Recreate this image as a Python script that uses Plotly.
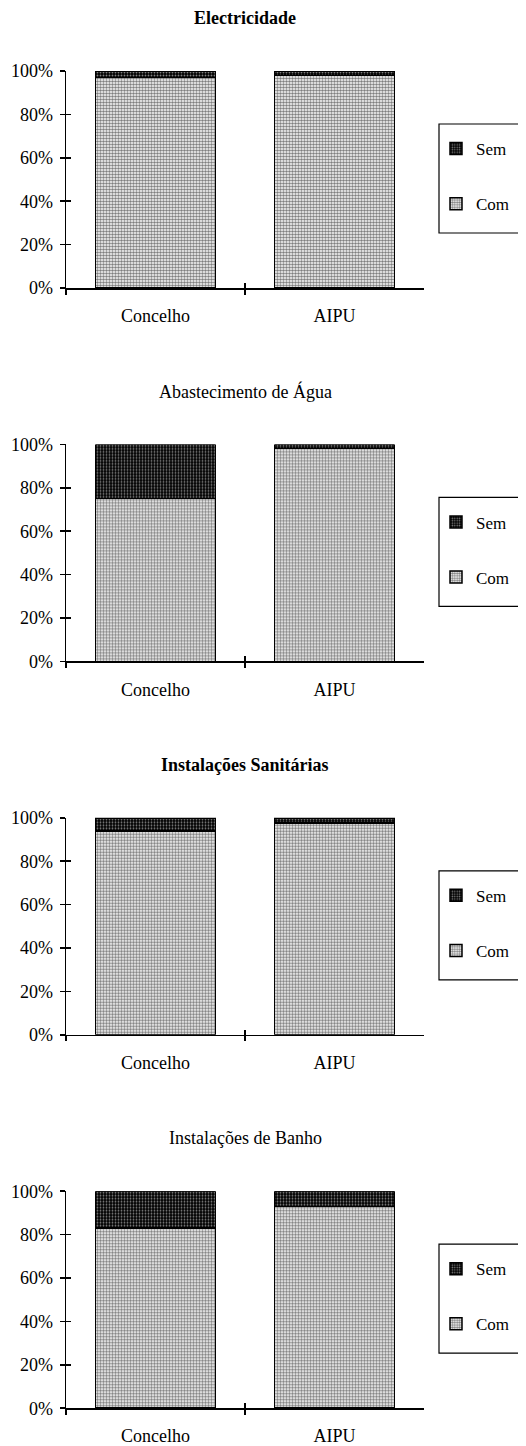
import plotly.graph_objects as go

categories = ["Concelho", "AIPU"]
titles = ["Electricidade", "Abastecimento de Água", "Instalações Sanitárias", "Instalações de Banho"]
title_bold = [True, False, True, False]

com_elec = [97, 98]
sem_elec = [3, 2]
com_agua = [75, 98]
sem_agua = [25, 2]
com_sanit = [94, 97.5]
sem_sanit = [6, 2.5]
com_banho = [83, 93]
sem_banho = [17, 7]

com_series = [com_elec, com_agua, com_sanit, com_banho]
sem_series = [sem_elec, sem_agua, sem_sanit, sem_banho]

y_ticks = [0, 20, 40, 60, 80, 100]
y_tick_text = ["0%", "20%", "40%", "60%", "80%", "100%"]

W, H = 526, 1446
OFF = 8  # page body offset in the screenshot
FONT = "Liberation Serif"
STEP = 373.4
PLOT_TOP = 71 - OFF
PLOT_BOT = 288 - OFF
X0, X1 = (66 - OFF) / W, (424 - OFF) / W

fig = go.Figure()
layout = {}
annotations = []
shapes = []

for k in range(4):
    ix = 2 * k + 1
    io = 2 * k + 2
    xa, ya = f"x{ix}", f"y{ix}"
    xo, yo = f"x{io}", f"y{io}"
    top = PLOT_TOP + STEP * k
    bot = PLOT_BOT + STEP * k
    lg = "legend" if k == 0 else f"legend{k + 1}"

    fig.add_trace(go.Bar(
        x=categories, y=com_series[k], name="Com", xaxis=xa, yaxis=ya,
        legend=lg, legendgroup=f"com{k}", legendrank=2,
        marker=dict(color="white", line=dict(color="black", width=1.5),
                    pattern=dict(shape=".", fgcolor="black", bgcolor="white",
                                 size=3, solidity=0.55, fillmode="overlay")),
        hoverinfo="skip",
    ))
    fig.add_trace(go.Bar(
        x=categories, y=sem_series[k], name="Sem", xaxis=xa, yaxis=ya,
        legend=lg, legendgroup=f"sem{k}", legendrank=1,
        marker=dict(color="black", line=dict(color="black", width=1.5),
                    pattern=dict(shape=".", fgcolor="white", bgcolor="black",
                                 size=3, solidity=0.3, fillmode="overlay")),
        hoverinfo="skip",
    ))
    fig.add_trace(go.Scatter(x=[None], y=[None], xaxis=xo, yaxis=yo,
                             showlegend=False, hoverinfo="skip"))

    ydom = [1 - bot / H, 1 - top / H]
    layout[f"xaxis{ix}"] = dict(
        domain=[X0, X1], anchor=ya, type="category", range=[-0.5, 1.5],
        tickson="boundaries", ticks="outside", ticklen=5, tickwidth=1.5, tickcolor="black",
        ticklabelstandoff=11, automargin=False,
        showline=True, linecolor="black", linewidth=1.5, showgrid=False, zeroline=False,
        tickfont=dict(family=FONT, size=18, color="black"), fixedrange=True,
    )
    layout[f"yaxis{ix}"] = dict(
        domain=ydom, anchor=xa, range=[0, 100], tickvals=y_ticks, ticktext=y_tick_text,
        ticks="outside", ticklen=5, tickwidth=1.5, tickcolor="black",
        ticklabelstandoff=3, automargin=False,
        showline=True, linecolor="black", linewidth=1.5, showgrid=False, zeroline=False,
        tickfont=dict(family=FONT, size=18, color="black"), fixedrange=True,
    )
    layout[f"xaxis{io}"] = dict(
        overlaying=xa, anchor=ya, range=[-0.5, 1.5], tickvals=[-0.5, 0.5, 1.5],
        ticks="inside", ticklen=5, tickwidth=1.5, tickcolor="black", automargin=False,
        showticklabels=False, showline=False, showgrid=False, zeroline=False, fixedrange=True,
    )
    layout[f"yaxis{io}"] = dict(
        overlaying=ya, anchor=xa, side="left", range=[0, 100], tickvals=y_ticks,
        ticks="inside", ticklen=5, tickwidth=1.5, tickcolor="black", automargin=False,
        showticklabels=False, showline=False, showgrid=False, zeroline=False, fixedrange=True,
    )

    t = titles[k]
    annotations.append(dict(
        text=f"<b>{t}</b>" if title_bold[k] else t, xref="paper", yref="paper",
        x=(245 - OFF) / W, y=1 - (18 - OFF + STEP * k) / H, xanchor="center", yanchor="middle",
        showarrow=False, font=dict(family=FONT, size=18, color="black"),
    ))

    box_top = 124 - OFF + STEP * k
    box_bot = 233 - OFF + STEP * k
    shapes.append(dict(type="rect", xref="paper", yref="paper",
                       x0=(439 - OFF) / W, x1=1.1, y0=1 - box_bot / H, y1=1 - box_top / H,
                       line=dict(color="black", width=1.2), fillcolor="rgba(0,0,0,0)"))

    layout[lg] = dict(
        x=(436 - OFF) / W, y=1 - (131 - OFF + STEP * k) / H, xanchor="left", yanchor="top",
        traceorder="grouped", tracegroupgap=30,
        bgcolor="rgba(0,0,0,0)", borderwidth=0,
        font=dict(family=FONT, size=17, color="black"), itemclick=False, itemdoubleclick=False,
    )

fig.update_layout(
    width=W, height=H, autosize=False,
    margin=dict(l=0, r=0, t=0, b=0, autoexpand=False),
    paper_bgcolor="white", plot_bgcolor="white",
    barmode="stack", bargap=0.33,
    annotations=annotations, shapes=shapes,
    font=dict(family=FONT, color="black"),
    hovermode=False,
    **layout,
)

fig.write_html("out.html", config={"displayModeBar": False, "staticPlot": True})
